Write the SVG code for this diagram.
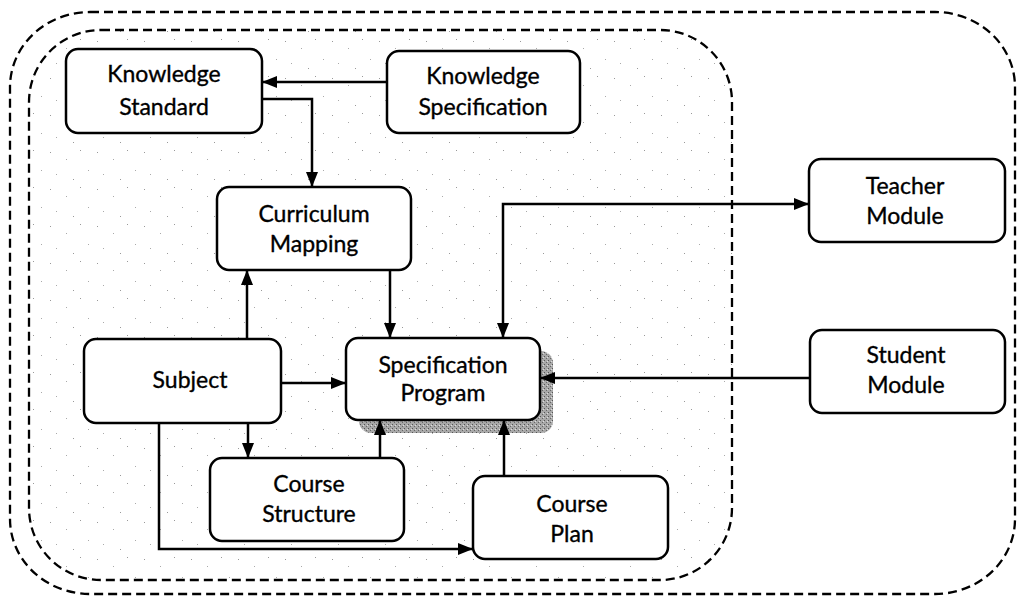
<svg xmlns="http://www.w3.org/2000/svg" width="1017" height="599" viewBox="0 0 1017 599">
  <style>
    .box { fill: #ffffff; stroke: #000000; stroke-width: 2.5; }
    .lbl { font-family: Lato, "Open Sans", "Liberation Sans", sans-serif; font-size: 23px; fill: #000000; stroke: #000000; stroke-width: 0.35; text-anchor: middle; }
    .conn { fill: none; stroke: #000000; stroke-width: 2.5; }
    .dash { fill: none; stroke: #000000; stroke-width: 2.3; stroke-dasharray: 9 5; }
  </style>
  <defs>
    <marker id="ah" viewBox="0 0 15 12" refX="15" refY="6" markerWidth="15" markerHeight="12" orient="auto-start-reverse" markerUnits="userSpaceOnUse">
      <path d="M0,0 L15,6 L0,12 z" fill="#000000"/>
    </marker>
    <pattern id="stip" width="47" height="37" patternUnits="userSpaceOnUse">
      <rect x="3" y="4" width="1" height="1" fill="#999"/>
      <rect x="19" y="11" width="1" height="1" fill="#aaa"/>
      <rect x="33" y="2" width="1" height="1" fill="#999"/>
      <rect x="41" y="22" width="1" height="1" fill="#aaa"/>
      <rect x="9" y="26" width="1" height="1" fill="#aaa"/>
      <rect x="26" y="31" width="1" height="1" fill="#999"/>
    </pattern>
    <pattern id="shade" width="4" height="4" patternUnits="userSpaceOnUse">
      <rect width="4" height="4" fill="#a8a8a8"/>
      <rect x="0" y="0" width="1" height="1" fill="#555"/>
      <rect x="2" y="2" width="1" height="1" fill="#666"/>
      <rect x="3" y="1" width="1" height="1" fill="#ddd"/>
    </pattern>
  </defs>

  <g id="boundaries">
    <rect x="10" y="12" width="1005" height="582" rx="80" ry="75" class="dash"/>
    <rect x="29" y="30" width="703" height="550" rx="72" ry="72" fill="url(#stip)" stroke="#000" stroke-width="2.3" stroke-dasharray="9 5"/>
  </g>

  <g id="node-knowledge-standard">
    <rect x="66" y="49" width="196" height="84" rx="12" class="box"/>
    <text class="lbl" x="164" y="82">Knowledge</text>
    <text class="lbl" x="164" y="115">Standard</text>
  </g>
  <g id="node-knowledge-specification">
    <rect x="387" y="51" width="193" height="82" rx="12" class="box"/>
    <text class="lbl" x="483" y="84">Knowledge</text>
    <text class="lbl" x="483" y="115">Specification</text>
  </g>
  <g id="node-curriculum-mapping">
    <rect x="217" y="187" width="194" height="83" rx="12" class="box"/>
    <text class="lbl" x="314" y="222">Curriculum</text>
    <text class="lbl" x="314" y="252">Mapping</text>
  </g>
  <g id="node-subject">
    <rect x="84" y="339" width="197" height="84" rx="12" class="box"/>
    <text class="lbl" x="190" y="388">Subject</text>
  </g>
  <g id="node-specification-program">
    <rect x="359" y="351" width="194" height="82" rx="12" fill="url(#shade)"/>
    <rect x="346" y="338" width="194" height="82" rx="12" class="box"/>
    <text class="lbl" x="443" y="373">Specification</text>
    <text class="lbl" x="443" y="401">Program</text>
  </g>
  <g id="node-course-structure">
    <rect x="210" y="458" width="194" height="83" rx="12" class="box"/>
    <text class="lbl" x="309" y="492">Course</text>
    <text class="lbl" x="309" y="522">Structure</text>
  </g>
  <g id="node-course-plan">
    <rect x="473" y="476" width="195" height="83" rx="12" class="box"/>
    <text class="lbl" x="572" y="512">Course</text>
    <text class="lbl" x="572" y="542">Plan</text>
  </g>
  <g id="node-teacher-module">
    <rect x="809" y="159" width="196" height="83" rx="12" class="box"/>
    <text class="lbl" x="905" y="194">Teacher</text>
    <text class="lbl" x="905" y="224">Module</text>
  </g>
  <g id="node-student-module">
    <rect x="810" y="330" width="195" height="83" rx="12" class="box"/>
    <text class="lbl" x="906" y="363">Student</text>
    <text class="lbl" x="906" y="393">Module</text>
  </g>

  <g id="connectors">
    <path class="conn" d="M387,82 H262" marker-end="url(#ah)"/>
    <path class="conn" d="M262,99 H312 V187" marker-end="url(#ah)"/>
    <path class="conn" d="M247,339 V270" marker-end="url(#ah)"/>
    <path class="conn" d="M390,270 V338" marker-end="url(#ah)"/>
    <path class="conn" d="M281,383 H346" marker-end="url(#ah)"/>
    <path class="conn" d="M248,423 V458" marker-end="url(#ah)"/>
    <path class="conn" d="M159,423 V549 H473" marker-end="url(#ah)"/>
    <path class="conn" d="M380,458 V420" marker-end="url(#ah)"/>
    <path class="conn" d="M504,476 V420" marker-end="url(#ah)"/>
    <path class="conn" d="M503,338 V204 H809" marker-start="url(#ah)" marker-end="url(#ah)"/>
    <path class="conn" d="M810,378 H540" marker-end="url(#ah)"/>
  </g>
</svg>
